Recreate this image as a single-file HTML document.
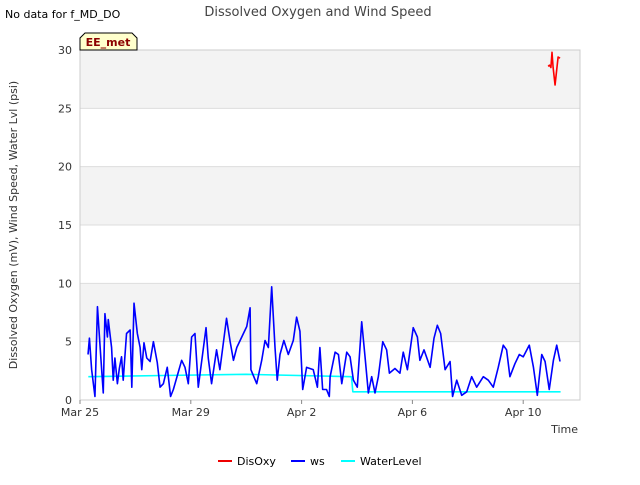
<!DOCTYPE html>
<html><head><meta charset="utf-8"><style>
body{margin:0;background:#fff;font-family:"Liberation Sans","DejaVu Sans",sans-serif}
</style></head><body>
<svg id="chart" width="640" height="480" xmlns="http://www.w3.org/2000/svg" font-family="DejaVu Sans, Liberation Sans, sans-serif">
<text x="5" y="18" font-size="11" fill="#000">No data for f_MD_DO</text>
<text x="318" y="16" font-size="13" fill="#444" text-anchor="middle">Dissolved Oxygen and Wind Speed</text>
<g id="plot"></g>
<text transform="translate(17,225) rotate(-90)" font-size="11" fill="#333" text-anchor="middle">Dissolved Oxygen (mV), Wind Speed, Water Lvl (psi)</text>
<text x="578" y="433" font-size="11" fill="#333" text-anchor="end">Time</text>
<g>
<path d="M80,50 L80,38 L85,33 L132,33 L137,38 L137,50 Z" fill="#ffffcc" stroke="#000" stroke-width="1"/>
<text x="108" y="46" font-size="11" font-weight="bold" fill="#8b0000" text-anchor="middle">EE_met</text>
</g>
<g>
<g><line x1="218" y1="461" x2="232" y2="461" stroke="#e00" stroke-width="2"/><text x="237" y="465" font-size="11" fill="#000">DisOxy</text></g>
<g><line x1="291" y1="461" x2="305" y2="461" stroke="#00f" stroke-width="2"/><text x="310" y="465" font-size="11" fill="#000">ws</text></g>
<g><line x1="341" y1="461" x2="355" y2="461" stroke="#0ff" stroke-width="2"/><text x="360" y="465" font-size="11" fill="#000">WaterLevel</text></g>
</g>
</svg>
<script>
const yTicks=[0,5,10,15,20,25,30];
const xTickDays=[0,4,8,12,16];
const xTickLabels=["Mar 25","Mar 29","Apr 2","Apr 6","Apr 10"];
const wsDays=[0.29,0.34,0.42,0.54,0.63,0.75,0.84,0.90,0.99,1.02,1.14,1.20,1.26,1.35,1.42,1.50,1.56,1.68,1.81,1.87,1.95,2.07,2.17,2.23,2.31,2.41,2.53,2.65,2.79,2.89,3.01,3.15,3.27,3.37,3.55,3.67,3.79,3.91,4.03,4.15,4.27,4.43,4.55,4.63,4.75,4.93,5.05,5.29,5.42,5.54,5.66,5.84,6.02,6.14,6.17,6.38,6.56,6.68,6.80,6.92,7.04,7.12,7.22,7.36,7.52,7.70,7.82,7.94,8.04,8.18,8.42,8.57,8.66,8.76,8.90,9.00,9.03,9.21,9.33,9.45,9.63,9.75,9.87,10.01,10.17,10.29,10.41,10.53,10.65,10.77,10.93,11.07,11.17,11.37,11.55,11.67,11.82,12.03,12.18,12.27,12.42,12.64,12.78,12.90,13.02,13.18,13.36,13.45,13.60,13.78,13.96,14.14,14.32,14.56,14.74,14.92,15.10,15.28,15.40,15.52,15.70,15.86,16.00,16.22,16.37,16.51,16.67,16.79,16.94,17.09,17.21,17.33];
const wsValues=[3.9,5.3,2.6,0.3,8.0,3.7,0.6,7.4,5.4,6.9,4.5,1.7,3.6,1.4,2.7,3.7,1.7,5.7,6.0,1.1,8.3,5.7,4.5,2.6,4.9,3.6,3.3,5.0,3.2,1.1,1.4,2.8,0.3,0.9,2.4,3.4,2.8,1.4,5.4,5.7,1.1,4.0,6.2,3.6,1.4,4.3,2.6,7.0,5.0,3.4,4.5,5.4,6.3,7.9,2.6,1.4,3.4,5.1,4.5,9.7,4.5,1.7,3.9,5.1,3.9,5.1,7.1,5.9,0.9,2.8,2.6,1.1,4.5,0.9,0.9,0.3,2.0,4.1,3.9,1.4,4.1,3.7,1.7,1.1,6.7,3.7,0.6,2.0,0.6,2.0,5.0,4.3,2.3,2.7,2.3,4.1,2.6,6.2,5.4,3.4,4.3,2.8,5.3,6.4,5.7,2.6,3.3,0.3,1.7,0.4,0.7,2.0,1.1,2.0,1.7,1.1,2.8,4.7,4.3,2.0,3.1,3.9,3.7,4.7,2.8,0.4,3.9,3.3,0.9,3.4,4.7,3.3];
const wlDays=[0.3,3,6,9.8,9.85,17.35];
const wlValues=[2.0,2.1,2.2,2.0,0.7,0.7];
const doDays=[16.9,16.95,17.0,17.04,17.08,17.15,17.26,17.33];
const doValues=[28.6,28.7,28.5,29.8,28.5,27.0,29.4,29.3];

const X0=80,X1=580,Y0=400,Y1=50,PXD=27.7,YMAX=30;
const xs=d=>X0+d*PXD, ys=v=>Y0-(v/YMAX)*(Y0-Y1);
const NS="http://www.w3.org/2000/svg";
const plot=document.getElementById('plot');
function mk(t,a){const e=document.createElementNS(NS,t);for(const k in a)e.setAttribute(k,a[k]);plot.appendChild(e);return e;}
let r=mk('rect',{x:X0,y:Y1,width:X1-X0,height:Y0-Y1,fill:'#fff'});


for(let i=0;i<yTicks.length-1;i++){
  if(i%2===1){
    const b=mk('rect',{x:X0,y:ys(yTicks[i+1]),width:X1-X0,height:ys(yTicks[i])-ys(yTicks[i+1]),fill:'#f3f3f3'});
    
    
  }
}
yTicks.forEach(v=>{
  const g=mk('line',{x1:X0,x2:X1,y1:ys(v),y2:ys(v),stroke:'#ddd','stroke-width':1});
  
  
  const t=mk('text',{x:X0-8,y:ys(v)+4,'font-size':11,fill:'#333','text-anchor':'end'});
  t.textContent=v;
  
  
});
const bx=mk('rect',{x:X0,y:Y1,width:X1-X0,height:Y0-Y1,fill:'none',stroke:'#ccc'});


xTickDays.forEach((d,i)=>{
  const tk=mk('line',{x1:xs(d),x2:xs(d),y1:Y0,y2:Y0+4,stroke:'#888'});
  
  
  const t=mk('text',{x:xs(d),y:Y0+16,'font-size':11,fill:'#333','text-anchor':'middle'});
  t.textContent=xTickLabels[i];
  
  
});
function line(days,vals,color,name){
  const p=mk('polyline',{points:days.map((d,i)=>xs(d)+','+ys(vals[i])).join(' '),fill:'none',stroke:color,'stroke-width':1.6,'stroke-linejoin':'round'});
  
  
}
line(wlDays,wlValues,'#00ffff','waterlevel-line');
line(wsDays,wsValues,'#0000ff','ws-line');
line(doDays,doValues,'#ff0000','disoxy-line');
</script>
</body></html>
